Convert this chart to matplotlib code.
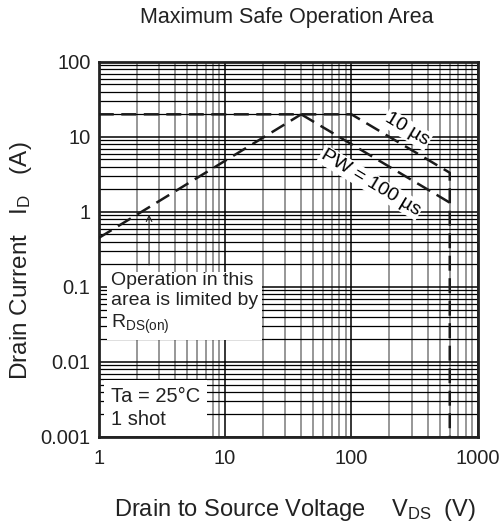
import numpy as np
import matplotlib
matplotlib.use("Agg")
import matplotlib.pyplot as plt
from matplotlib.ticker import LogLocator, NullFormatter

plt.rcParams['font.family'] = ['Liberation Sans', 'DejaVu Sans']
plt.rcParams['mathtext.default'] = 'regular'

# Safe operating area limits
rds_v = [1, 40]
rds_i = [0.45, 20]
pw10_v = [1, 100, 600, 600]
pw10_i = [20, 20, 3.33, 0.001]
pw100_v = [40, 600]
pw100_i = [20, 1.33]

x_ticks = [1, 10, 100, 1000]
x_labels = ['1', '10', '100', '1000']
y_ticks = [0.001, 0.01, 0.1, 1, 10, 100]
y_labels = ['0.001', '0.01', '0.1', '1', '10', '100']

fig = plt.figure(figsize=(5.04, 5.29), dpi=100)
ax = fig.add_axes([0.196, 0.174, 0.752, 0.709])
ax.set_xscale('log')
ax.set_yscale('log')
ax.set_xlim(1, 1000)
ax.set_ylim(0.001, 100)

# grid
ax.xaxis.set_minor_locator(LogLocator(base=10, subs=np.arange(2, 10)))
ax.yaxis.set_minor_locator(LogLocator(base=10, subs=np.arange(2, 10)))
ax.xaxis.set_minor_formatter(NullFormatter())
ax.yaxis.set_minor_formatter(NullFormatter())
ax.grid(which='major', axis='both', color='black', lw=1.1, zorder=1)
ax.grid(which='minor', axis='x', color='#7a7a7a', lw=1.1, zorder=1)
ax.grid(which='minor', axis='y', color='black', lw=0.9, zorder=1)
ax.set_axisbelow(True)

ax.set_xticks(x_ticks)
ax.set_xticklabels(x_labels)
ax.set_yticks(y_ticks)
ax.set_yticklabels(y_labels)
ax.tick_params(which='both', length=0, labelsize=14.5, colors='#222222')
ax.tick_params(axis='x', pad=9)
ax.tick_params(axis='y', pad=6)

for s in ax.spines.values():
    s.set_linewidth(2)
    s.set_color('#222222')

style = dict(color='#1a1a1a', lw=1.8, dashes=(6, 3), zorder=3)
ax.plot(rds_v, rds_i, **style)
ax.plot(pw10_v, pw10_i, **style)
ax.plot(pw100_v, pw100_i, **style)

ax.text(275, 12.5, '10 µs', rotation=-31, fontsize=14, ha='center', va='center',
        rotation_mode='anchor', zorder=4,
        bbox=dict(facecolor='white', edgecolor='none', pad=1))
ax.text(142, 2.45, 'PW = 100 µs', rotation=-31, fontsize=14, ha='center', va='center',
        rotation_mode='anchor', zorder=4,
        bbox=dict(facecolor='white', edgecolor='none', pad=1))

ax.annotate('', xy=(2.5, 1.0), xytext=(2.5, 0.18),
            arrowprops=dict(arrowstyle='->', lw=0.8, color='#222222'), zorder=4)

ax.text(1.25, 0.16, 'Operation in this\narea is limited by\n$R_{DS(on)}$', fontsize=14,
        ha='left', va='top', linespacing=1.25, zorder=5, color='#222222',
        bbox=dict(facecolor='white', edgecolor='none', pad=3))
ax.text(1.25, 0.0047, 'Ta = 25°C\n1 shot', fontsize=14.5,
        ha='left', va='top', linespacing=1.3, zorder=5, color='#222222',
        bbox=dict(facecolor='white', edgecolor='none', pad=5))

fig.text(0.568, 0.966, 'Maximum Safe Operation Area', ha='center', va='center',
         fontsize=15.5, color='#222222')
fig.text(0.585, 0.036, 'Drain to Source Voltage    $V_{DS}$  (V)', ha='center', va='center',
         fontsize=17, color='#222222')
fig.text(0.042, 0.508, 'Drain Current   $I_D$   (A)', ha='center', va='center',
         rotation=90, fontsize=17.5, color='#222222')

fig.savefig('out.png', dpi=100)
